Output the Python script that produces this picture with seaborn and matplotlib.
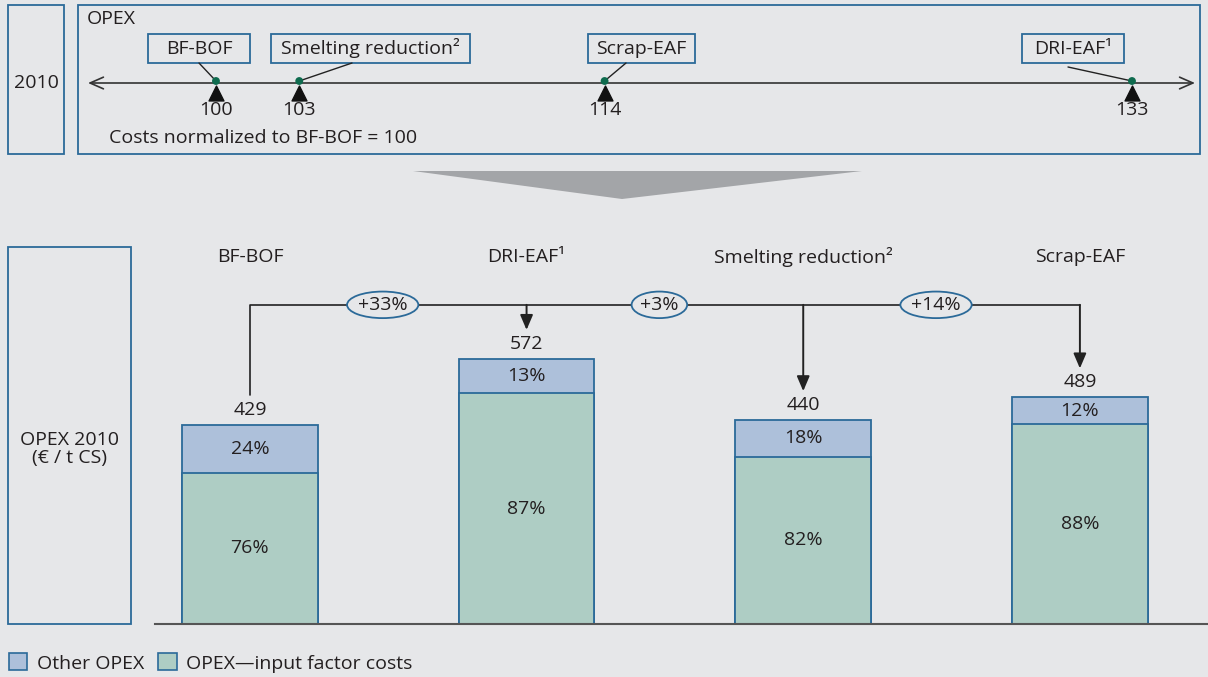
import matplotlib.pyplot as plt
import matplotlib.patches as mpatches
import pandas as pd
import seaborn as sns

# -----------------------------
# data
# -----------------------------
methods = ["BF-BOF", "DRI-EAF¹", "Smelting reduction²", "Scrap-EAF"]
opex_total = [429, 572, 440, 489]
other_share = [24, 13, 18, 12]
input_share = [76, 87, 82, 88]

timeline_labels = ["BF-BOF", "Smelting reduction²", "Scrap-EAF", "DRI-EAF¹"]
timeline_index = [100, 103, 114, 133]

BG = "#e6e7e9"
BLUE = "#2b6a99"
OTHER = "#adc0da"
INPUT = "#aecdc4"
TXT = "#231f20"
FS = 14

sns.set_theme(style="white")
plt.rcParams["font.family"] = ["Open Sans", "DejaVu Sans"]
plt.rcParams["text.color"] = TXT

W, H = 1208, 677


def fx(x):
    return x / W


def fy(y):
    return 1 - y / H


fig = plt.figure(figsize=(W / 100, H / 100), dpi=100, facecolor=BG)

# overlay in pixel coordinates for frames and decorations
ov = fig.add_axes([0, 0, 1, 1], zorder=0)
ov.set_xlim(0, W)
ov.set_ylim(H, 0)
ov.axis("off")
ov.set_facecolor("none")

for (x0, y0, x1, y1) in [(8, 5, 64, 154), (78, 5, 1200, 154), (8, 247, 131, 624)]:
    ov.add_patch(mpatches.Rectangle((x0, y0), x1 - x0, y1 - y0, fill=False,
                                    ec=BLUE, lw=1.3))
ov.text(36, 83, "2010", ha="center", va="center", fontsize=FS)
ov.text(87, 19, "OPEX", ha="left", va="center", fontsize=FS)
ov.text(109, 138, "Costs normalized to BF-BOF = 100", ha="left", va="center", fontsize=FS)
ov.text(70, 449, "OPEX 2010\n(€ / t CS)", ha="center", va="center", fontsize=FS,
        linespacing=1.05)
ov.add_patch(mpatches.Polygon([(413, 171), (862, 171), (622, 199)], closed=True,
                              fc="#a3a5a8", ec="none"))

# label boxes on the timeline
boxes = [(148, 250), (271, 470), (588, 695), (1022, 1124)]
leader_start = [(199, 63), (352, 63), (626, 63), (1068, 67)]
for (x0, x1) in boxes:
    ov.add_patch(mpatches.Rectangle((x0, 34), x1 - x0, 29, fc=BG, ec=BLUE,
                                    lw=1.3, zorder=3))

# -----------------------------
# timeline (top panel)
# -----------------------------
tl = fig.add_axes([fx(88), fy(154), (1195 - 88) / W, 149 / H], zorder=2)
tl.set_xlim(95.39, 135.27)
tl.set_ylim(154, 5)
tl.axis("off")
tl.set_facecolor("none")

tl.annotate("", xy=(95.39, 83), xytext=(135.27, 83),
            arrowprops=dict(arrowstyle="<->,head_length=0.8,head_width=0.35",
                            lw=1.2, color="#333333", shrinkA=0, shrinkB=0))
sns.scatterplot(x=timeline_index, y=[81] * 4, color="#0e6b4e", s=32,
                edgecolor="none", ax=tl, zorder=5, legend=False)
tl.scatter(timeline_index, [92.5] * 4, marker="^", s=115, color="#111111", zorder=4)
for v in timeline_index:
    tl.text(v, 110, str(v), ha="center", va="center", fontsize=FS)

for lab, v, (x0, x1), start in zip(timeline_labels, timeline_index, boxes, leader_start):
    ov.text((x0 + x1) / 2, 48.5, lab, ha="center", va="center", fontsize=FS, zorder=4)
    tl.annotate("", xy=(v, 81), xytext=start, textcoords=ov.transData,
                arrowprops=dict(arrowstyle="-", color="#222222", lw=1,
                                shrinkA=0, shrinkB=2))

# -----------------------------
# stacked bars (bottom panel)
# -----------------------------
df = pd.DataFrame({"method": methods, "total": opex_total,
                   "other": other_share, "input": input_share})
df["input_val"] = df["total"] * df["input"] / 100
df["other_val"] = df["total"] - df["input_val"]

ax = fig.add_axes([fx(155), fy(624), (W - 155) / W, (624 - 200) / H], zorder=1)
ax.set_facecolor("none")
sns.barplot(data=df, x="method", y="total", color=OTHER, saturation=1, width=0.49,
            edgecolor=BLUE, linewidth=1.3, errorbar=None, ax=ax)
sns.barplot(data=df, x="method", y="input_val", color=INPUT, saturation=1, width=0.49,
            edgecolor=BLUE, linewidth=1.3, errorbar=None, ax=ax)
ax.set_xlim(-0.343, 3.463)
ax.set_ylim(0, 914)
ax.set_xticks([])
ax.set_yticks([])
ax.set_xlabel("")
ax.set_ylabel("")
for s in ["left", "top", "right"]:
    ax.spines[s].set_visible(False)
ax.spines["bottom"].set_color("#555555")
ax.spines["bottom"].set_linewidth(1.5)

for i, row in df.iterrows():
    ax.text(i, 791, row["method"], ha="center", va="center", fontsize=FS)
    ax.text(i, row["total"] + 32, str(row["total"]), ha="center", va="center", fontsize=FS)
    ax.text(i, row["total"] - row["other_val"] / 2, f"{row['other']}%",
            ha="center", va="center", fontsize=FS)
    ax.text(i, row["input_val"] / 2, f"{row['input']}%",
            ha="center", va="center", fontsize=FS)

# comparison connectors
y_line = 688
ax.plot([0, 0, 3], [494, y_line, y_line], color="#222222", lw=1.2)
for i in range(1, 4):
    ax.annotate("", xy=(i, opex_total[i] + 62), xytext=(i, y_line),
                arrowprops=dict(arrowstyle="-|>,head_length=0.75,head_width=0.32",
                                lw=1.4, color="#222222", shrinkA=0, shrinkB=0))
    change = round((opex_total[i] / opex_total[0] - 1) * 100)
    ax.text(i - 0.52, y_line, f"+{change}%", ha="center", va="center", fontsize=FS,
            bbox=dict(boxstyle="ellipse,pad=0.02", fc=BG, ec=BLUE, lw=1.3))

# legend
handles = [mpatches.Patch(fc=OTHER, ec=BLUE, lw=1.2),
           mpatches.Patch(fc=INPUT, ec=BLUE, lw=1.2)]
fig.legend(handles, ["Other OPEX", "OPEX—input factor costs"], loc="center left",
           bbox_to_anchor=(fx(9), fy(663)), ncol=2, frameon=False, fontsize=FS,
           handlelength=0.95, handleheight=0.95, handletextpad=0.5, columnspacing=0.7,
           borderaxespad=0, borderpad=0)

fig.savefig("out.png", dpi=100, facecolor=BG)
